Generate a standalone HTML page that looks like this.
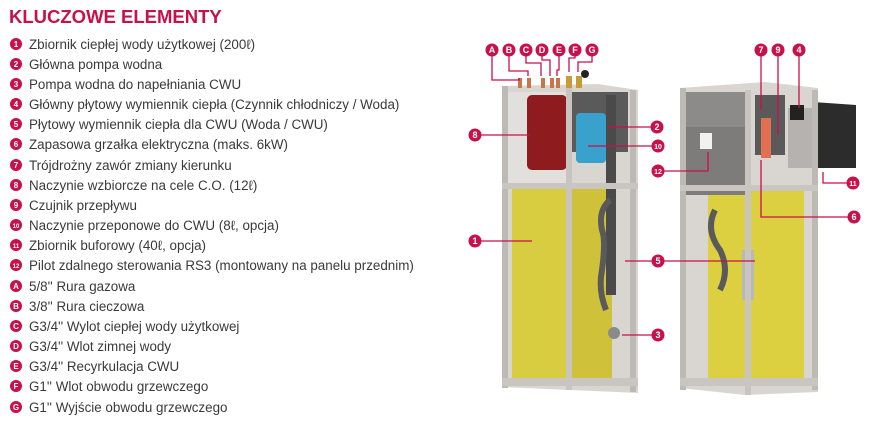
<!DOCTYPE html>
<html><head><meta charset="utf-8"><style>
html,body{margin:0;padding:0;background:#fff;width:874px;height:424px;overflow:hidden}
svg{display:block}
.t{font-family:"Liberation Sans",sans-serif;font-size:13.4px;fill:#3a3a3a}
.b{font-family:"Liberation Sans",sans-serif;font-size:9px;font-weight:bold;fill:#fff;text-anchor:middle}
.l{stroke:#c8104a;stroke-width:1.3;fill:none}
</style></head><body>
<svg width="874" height="424" viewBox="0 0 874 424" xmlns="http://www.w3.org/2000/svg">
<text x="9" y="23" style="font-family:'Liberation Sans',sans-serif;font-size:18.5px;font-weight:bold;fill:#c8104a">KLUCZOWE ELEMENTY</text>
<g id="list">
<g fill="#c8104a">
<circle cx="16" cy="44" r="6"/><circle cx="16" cy="64" r="6"/><circle cx="16" cy="84" r="6"/><circle cx="16" cy="104" r="6"/><circle cx="16" cy="124" r="6"/><circle cx="16" cy="144" r="6"/><circle cx="16" cy="165" r="6"/><circle cx="16" cy="185" r="6"/><circle cx="16" cy="205" r="6"/><circle cx="16" cy="225" r="6"/><circle cx="16" cy="245" r="6"/><circle cx="16" cy="265" r="6"/><circle cx="16" cy="286" r="6"/><circle cx="16" cy="306" r="6"/><circle cx="16" cy="326" r="6"/><circle cx="16" cy="346" r="6"/><circle cx="16" cy="366" r="6"/><circle cx="16" cy="386" r="6"/><circle cx="16" cy="407" r="6"/>
</g>
<g class="b" style="font-size:8px">
<text x="16" y="47">1</text><text x="16" y="67">2</text><text x="16" y="87">3</text><text x="16" y="107">4</text><text x="16" y="127">5</text><text x="16" y="147">6</text><text x="16" y="168">7</text><text x="16" y="188">8</text><text x="16" y="208">9</text><text x="16" y="228" style="font-size:6px">10</text><text x="16" y="248" style="font-size:6px">11</text><text x="16" y="268" style="font-size:6px">12</text><text x="16" y="289">A</text><text x="16" y="309">B</text><text x="16" y="329">C</text><text x="16" y="349">D</text><text x="16" y="369">E</text><text x="16" y="389">F</text><text x="16" y="410">G</text>
</g>
<g class="t">
<text x="29" y="49">Zbiornik ciepłej wody użytkowej (200ℓ)</text>
<text x="29" y="69">Główna pompa wodna</text>
<text x="29" y="89">Pompa wodna do napełniania CWU</text>
<text x="29" y="109">Główny płytowy wymiennik ciepła (Czynnik chłodniczy / Woda)</text>
<text x="29" y="129">Płytowy wymiennik ciepła dla CWU (Woda / CWU)</text>
<text x="29" y="149">Zapasowa grzałka elektryczna (maks. 6kW)</text>
<text x="29" y="170">Trójdrożny zawór zmiany kierunku</text>
<text x="29" y="190">Naczynie wzbiorcze na cele C.O. (12ℓ)</text>
<text x="29" y="210">Czujnik przepływu</text>
<text x="29" y="230">Naczynie przeponowe do CWU (8ℓ, opcja)</text>
<text x="29" y="250">Zbiornik buforowy (40ℓ, opcja)</text>
<text x="29" y="270">Pilot zdalnego sterowania RS3 (montowany na panelu przednim)</text>
<text x="29" y="291">5/8'' Rura gazowa</text>
<text x="29" y="311">3/8'' Rura cieczowa</text>
<text x="29" y="331">G3/4'' Wylot ciepłej wody użytkowej</text>
<text x="29" y="351">G3/4'' Wlot zimnej wody</text>
<text x="29" y="371">G3/4'' Recyrkulacja CWU</text>
<text x="29" y="391">G1'' Wlot obwodu grzewczego</text>
<text x="29" y="412">G1'' Wyjście obwodu grzewczego</text>
</g>
</g>
<g>
<polygon points="502,86 598,84 638,90 638,393 570,390 502,387" fill="#d9d6d2"/>
<rect x="512" y="188" width="100" height="192" fill="#d8cc40"/>
<rect x="570" y="188" width="42" height="192" fill="#cfc23a"/>
<rect x="506" y="92" width="62" height="95" fill="#e2e0dc"/>
<rect x="568" y="92" width="60" height="60" fill="#5a5a5a"/>
<rect x="527" y="95" width="40" height="75" rx="5" fill="#8e1b1e"/>
<rect x="576" y="113" width="30" height="50" rx="4" fill="#3aa0cc"/>
<rect x="606" y="95" width="10" height="200" fill="#4a4a4a"/>
<path d="M610,200 q-12,10 -8,30 q4,10 0,40 q-4,20 4,40" stroke="#5a5a5a" stroke-width="6" fill="none"/>
<circle cx="614" cy="333" r="6" fill="#8a8a8a"/>
<rect x="502" y="86" width="6" height="302" fill="#bdbab5"/>
<rect x="566" y="88" width="6" height="302" fill="#c8c5c0"/>
<rect x="630" y="90" width="6" height="302" fill="#bdbab5"/>
<rect x="502" y="183" width="136" height="6" fill="#c9c6c1"/>
<rect x="502" y="378" width="136" height="8" fill="#c9c6c1"/>
<g fill="#c8754a"><rect x="518" y="78" width="4" height="10"/><rect x="527" y="78" width="4" height="10"/><rect x="541" y="78" width="4" height="10"/><rect x="550" y="78" width="4" height="10"/><rect x="556" y="78" width="4" height="10"/></g>
<g fill="#c89a3a"><rect x="566" y="76" width="6" height="12"/><rect x="576" y="76" width="6" height="12"/></g>
<circle cx="585" cy="74" r="4" fill="#222"/>
</g>
<g>
<polygon points="680,88 765,82 818,88 818,392 745,395 680,388" fill="#d9d6d2"/>
<rect x="708" y="188" width="96" height="190" fill="#dcd040"/>
<rect x="683" y="92" width="63" height="103" fill="#8c8b89"/>
<rect x="683" y="127" width="63" height="68" fill="#7d7c7a"/>
<rect x="700" y="133" width="12" height="16" fill="#f1f1f1"/>
<rect x="755" y="95" width="30" height="60" fill="#5a5a5a"/>
<rect x="761" y="118" width="10" height="40" fill="#e07050"/>
<rect x="788" y="108" width="28" height="60" fill="#b5b3b0"/>
<rect x="790" y="105" width="14" height="15" fill="#222"/>
<polygon points="813,102 856,105 856,168 813,168" fill="#2c2c2c"/>
<rect x="742" y="250" width="12" height="50" fill="#b8b8b8"/>
<path d="M715,210 q-10,20 5,40 q10,20 0,40" stroke="#5a5a5a" stroke-width="6" fill="none"/>
<rect x="680" y="88" width="6" height="302" fill="#bdbab5"/>
<rect x="745" y="90" width="6" height="305" fill="#c8c5c0"/>
<rect x="812" y="90" width="6" height="300" fill="#bdbab5"/>
<rect x="680" y="185" width="138" height="6" fill="#c9c6c1"/>
<rect x="680" y="378" width="138" height="8" fill="#c9c6c1"/>
</g>
<g class="l">
<polyline points="492,50 492,80 519,80 519,78"/>
<polyline points="509,50 509,71 528,71 528,76"/>
<polyline points="526,50 526,63 541,63 541,76"/>
<polyline points="542,50 542,60 550,60 550,76"/>
<polyline points="559,50 559,70 557,70 557,76"/>
<polyline points="575,50 575,58 569,58 569,72"/>
<polyline points="592,50 592,62 578,62 578,72"/>
<line x1="475" y1="135" x2="530" y2="135"/>
<line x1="657" y1="127" x2="608" y2="127"/>
<line x1="658" y1="146" x2="588" y2="146"/>
<polyline points="658,171 708,171 708,152"/>
<line x1="475" y1="241" x2="532" y2="241"/>
<line x1="658" y1="261" x2="625" y2="261"/>
<line x1="658" y1="261" x2="755" y2="261"/>
<line x1="658" y1="335" x2="622" y2="335"/>
<line x1="761" y1="50" x2="761" y2="110"/>
<polyline points="778,50 778,135"/>
<line x1="799" y1="50" x2="799" y2="108"/>
<polyline points="853,183 823,183 823,172"/>
<polyline points="854,217 761,217 761,160"/>
</g>
<g fill="#c8104a">
<circle cx="492" cy="50" r="6.5"/><circle cx="509" cy="50" r="6.5"/><circle cx="526" cy="50" r="6.5"/><circle cx="542" cy="50" r="6.5"/><circle cx="559" cy="50" r="6.5"/><circle cx="575" cy="50" r="6.5"/><circle cx="592" cy="50" r="6.5"/>
<circle cx="761" cy="50" r="6.5"/><circle cx="778" cy="50" r="6.5"/><circle cx="799" cy="50" r="6.5"/>
<circle cx="475" cy="135" r="6.5"/><circle cx="657" cy="127" r="6.5"/><circle cx="658" cy="146" r="6.5"/><circle cx="658" cy="171" r="6.5"/><circle cx="853" cy="183" r="6.5"/><circle cx="854" cy="217" r="6.5"/><circle cx="475" cy="241" r="6.5"/><circle cx="658" cy="261" r="6.5"/><circle cx="658" cy="335" r="6.5"/>
</g>
<g class="b">
<text x="492" y="53">A</text><text x="509" y="53">B</text><text x="526" y="53">C</text><text x="542" y="53">D</text><text x="559" y="53">E</text><text x="575" y="53">F</text><text x="592" y="53">G</text>
<text x="761" y="53">7</text><text x="778" y="53">9</text><text x="799" y="53">4</text>
<text x="475" y="138">8</text><text x="657" y="130">2</text><text x="658" y="149" style="font-size:7px">10</text><text x="658" y="174" style="font-size:7px">12</text><text x="853" y="186" style="font-size:7px">11</text><text x="854" y="220">6</text><text x="475" y="244">1</text><text x="658" y="264">5</text><text x="658" y="338">3</text>
</g>
</svg>
</body></html>
